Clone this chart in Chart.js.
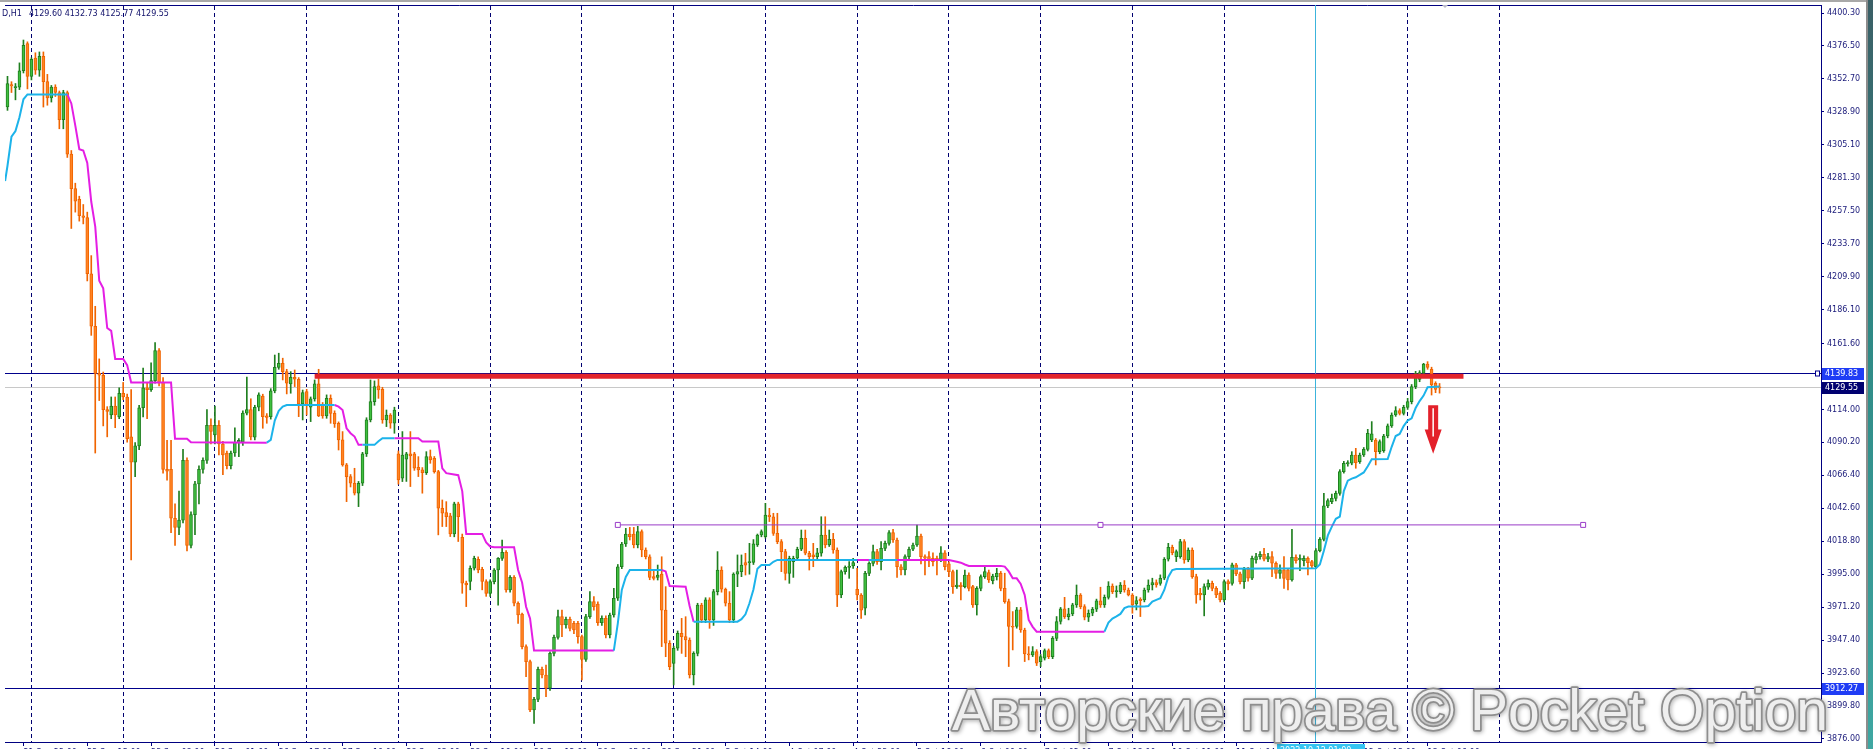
<!DOCTYPE html>
<html>
<head>
<meta charset="utf-8">
<title>H1 chart</title>
<script src="https://cdn.jsdelivr.net/npm/chart.js@4.4.1/dist/chart.umd.min.js"></script>
<style>
  html, body { margin: 0; padding: 0; background: #fff; overflow: hidden; }
  canvas { display: block; }
</style>
</head>
<body>
<canvas id="myChart" width="1873" height="749"></canvas>
<script>
// hourly candles, bar index 0..359 (23 bars per trading day)
const open = [
  4332.4, 4348.6, 4346.4, 4346.8, 4358.6, 4378.2, 4354.6, 4367.7, 4359.1, 4369.0,
  4350.7, 4338.9, 4346.8, 4342.9, 4323.2, 4342.9, 4298.4, 4273.5, 4265.7, 4253.9,
  4252.6, 4212.0, 4174.1, 4140.0, 4138.7, 4113.9, 4110.0, 4116.5, 4108.6, 4125.6,
  4123.0, 4094.2, 4075.9, 4087.7, 4115.2, 4129.6, 4128.3, 4134.8, 4156.5, 4133.5,
  4070.7, 4070.7, 4035.4, 4028.8, 4034.1, 4077.2, 4015.7, 4038.0, 4060.2, 4070.7,
  4077.2, 4102.6, 4095.6, 4102.6, 4089.0, 4082.5, 4073.3, 4082.5, 4090.3, 4090.3,
  4111.3, 4113.9, 4093.9, 4115.6, 4123.7, 4109.3, 4108.8, 4127.4, 4144.4, 4147.3,
  4141.3, 4132.4, 4137.2, 4135.8, 4118.0, 4126.9, 4115.6, 4121.6, 4132.4, 4117.2,
  4109.3, 4122.1, 4111.2, 4104.0, 4092.0, 4073.9, 4065.5, 4060.7, 4053.5, 4060.7,
  4081.9, 4106.4, 4119.6, 4131.0, 4128.6, 4106.4, 4110.0, 4104.0, 4081.9, 4064.3,
  4078.0, 4081.9, 4081.9, 4072.2, 4070.3, 4068.4, 4079.9, 4078.7, 4069.1, 4042.6,
  4039.5, 4037.1, 4024.1, 4045.8, 4021.7, 3988.5, 3989.7, 3999.3, 4005.8, 3998.6,
  3989.7, 3981.2, 3989.6, 3998.0, 4006.4, 4010.8, 3983.6, 3992.7, 3974.0, 3966.2,
  3942.7, 3931.8, 3896.9, 3904.6, 3926.3, 3922.2, 3912.6, 3937.8, 3949.4, 3964.3,
  3958.3, 3962.4, 3959.5, 3959.5, 3949.9, 3933.5, 3964.3, 3975.2, 3973.5, 3960.0,
  3963.1, 3951.1, 3965.5, 3977.6, 4000.4, 4016.8, 4024.0, 4024.0, 4016.1, 4025.7,
  4012.5, 4007.6, 3993.2, 3992.7, 3995.1, 3969.1, 3945.1, 3930.6, 3941.5, 3952.3,
  3949.9, 3947.5, 3922.2, 3937.8, 3972.7, 3961.9, 3976.4, 3961.9, 3982.4, 3998.0,
  3984.1, 3974.0, 3961.9, 3995.1, 3996.8, 4003.3, 4003.3, 4003.5, 4016.1, 4023.3,
  4022.1, 4037.7, 4036.5, 4024.5, 4018.5, 4011.3, 3995.6, 4004.1, 4006.5, 4013.0,
  4020.9, 4010.1, 4008.9, 4007.7, 4010.1, 4023.3, 4016.1, 4020.2, 4012.5, 3980.0,
  3996.8, 3999.9, 4000.9, 3984.1, 3980.0, 3970.4, 3995.6, 4002.8, 4011.3, 4004.1,
  4013.7, 4017.3, 4025.0, 4019.7, 4000.4, 3998.0, 4007.7, 4013.0, 4016.1, 4022.6,
  4007.7, 4007.7, 4006.5, 4006.5, 4005.3, 4010.5, 4002.4, 3996.8, 3986.0, 3987.2,
  3986.0, 3994.4, 3986.0, 3972.8, 3984.8, 3993.2, 3996.1, 3990.3, 3993.2, 3995.6,
  3984.8, 3975.2, 3957.2, 3957.2, 3969.2, 3954.7, 3937.4, 3936.7, 3939.1, 3931.9,
  3934.3, 3939.8, 3935.5, 3948.7, 3960.8, 3969.9, 3964.4, 3966.3, 3972.8, 3980.0,
  3971.6, 3963.9, 3966.8, 3969.7, 3975.7, 3972.8, 3978.3, 3986.5, 3982.4, 3982.4,
  3987.2, 3983.6, 3980.0, 3973.5, 3976.9, 3976.4, 3983.6, 3987.2, 3988.9, 3988.4,
  3992.1, 4005.8, 4014.4, 4007.7, 4007.7, 4018.5, 4005.3, 4012.5, 3993.3, 3981.2,
  3980.0, 3985.6, 3988.4, 3984.8, 3981.2, 3976.4, 3989.6, 3988.4, 4001.7, 3995.2,
  3989.6, 3998.6, 3992.1, 4005.3, 4007.7, 4009.4, 4005.8, 4007.7, 4002.9, 3995.6,
  3998.1, 3998.1, 3990.8, 4007.2, 4005.3, 4004.8, 4006.5, 4004.1, 4000.5, 4012.0,
  4020.2, 4044.3, 4047.4, 4049.8, 4053.4, 4069.1, 4074.6, 4075.1, 4081.1, 4076.3,
  4081.1, 4085.2, 4091.9, 4091.9, 4083.5, 4084.2, 4094.8, 4102.1, 4110.0, 4113.1,
  4111.2, 4115.5, 4119.6, 4130.5, 4135.7, 4140.1, 4146.8, 4143.0, 4132.9, 4129.60
];
const high = [
  4354.6, 4350.7, 4349.4, 4364.3, 4380.8, 4379.5, 4368.0, 4371.6, 4372.2, 4372.2,
  4356.0, 4348.0, 4348.5, 4344.0, 4344.5, 4344.0, 4301.0, 4277.4, 4268.0, 4262.0,
  4256.5, 4225.1, 4188.5, 4150.5, 4141.0, 4116.0, 4123.0, 4123.0, 4129.6, 4133.5,
  4125.0, 4128.3, 4090.0, 4117.0, 4143.9, 4133.0, 4147.6, 4162.3, 4158.0, 4137.0,
  4091.6, 4091.6, 4045.8, 4055.0, 4085.1, 4079.0, 4040.0, 4062.0, 4073.3, 4079.0,
  4113.9, 4107.3, 4116.5, 4105.9, 4091.0, 4084.0, 4084.0, 4100.8, 4093.0, 4113.0,
  4137.4, 4121.7, 4117.0, 4126.0, 4125.0, 4111.0, 4129.0, 4153.3, 4154.6, 4151.0,
  4143.0, 4141.3, 4142.5, 4137.0, 4128.0, 4128.5, 4123.0, 4135.3, 4143.0, 4119.0,
  4124.5, 4124.5, 4113.0, 4105.0, 4098.0, 4075.0, 4067.0, 4071.5, 4062.0, 4083.0,
  4108.0, 4135.3, 4134.6, 4135.8, 4130.0, 4113.6, 4111.0, 4115.6, 4084.0, 4098.0,
  4083.0, 4098.0, 4083.0, 4079.9, 4072.0, 4083.5, 4084.7, 4080.0, 4070.0, 4048.6,
  4047.4, 4039.0, 4047.0, 4047.0, 4024.0, 3990.0, 4001.0, 4008.0, 4007.5, 4000.0,
  3991.0, 3991.0, 3999.0, 4007.0, 4019.7, 4012.0, 3994.0, 3994.0, 3975.0, 3967.0,
  3944.0, 3933.0, 3906.0, 3928.0, 3928.0, 3929.4, 3939.0, 3951.0, 3969.1, 3969.1,
  3964.0, 3964.0, 3961.0, 3961.0, 3951.0, 3966.0, 3982.4, 3978.8, 3975.0, 3965.0,
  3965.0, 3967.0, 3984.8, 4002.0, 4018.0, 4028.1, 4028.8, 4028.8, 4029.6, 4027.0,
  4014.0, 4009.0, 3998.0, 4001.6, 4007.6, 3986.0, 3947.0, 3943.0, 3954.0, 3963.1,
  3964.3, 3949.0, 3939.0, 3974.0, 3974.0, 3978.0, 3978.0, 3984.0, 4011.3, 4000.4,
  3985.0, 3982.4, 3996.0, 4008.9, 4008.9, 4010.1, 4017.3, 4020.0, 4024.0, 4027.0,
  4046.2, 4042.6, 4039.0, 4039.0, 4020.0, 4013.0, 4008.0, 4008.0, 4014.5, 4026.9,
  4026.9, 4011.5, 4017.3, 4013.7, 4036.5, 4036.5, 4026.9, 4024.5, 4014.0, 3998.0,
  4001.0, 4004.1, 4006.5, 3999.2, 3981.0, 3997.0, 4004.0, 4016.1, 4013.0, 4018.5,
  4019.0, 4026.5, 4027.4, 4021.0, 4002.0, 4009.0, 4014.5, 4017.5, 4030.5, 4024.0,
  4009.0, 4011.3, 4010.5, 4008.0, 4014.9, 4012.0, 4004.0, 3998.0, 3998.0, 3989.0,
  3998.0, 3996.0, 3987.0, 3986.0, 3994.5, 4000.4, 3998.0, 3995.0, 3999.2, 3997.0,
  3995.7, 3977.0, 3968.0, 3971.0, 3971.0, 3956.0, 3942.7, 3942.7, 3940.5, 3937.0,
  3941.0, 3941.0, 3950.0, 3964.4, 3971.0, 3978.3, 3970.4, 3974.0, 3987.2, 3981.0,
  3973.0, 3969.2, 3971.0, 3977.0, 3985.6, 3980.0, 3989.6, 3988.0, 3986.5, 3989.0,
  3990.4, 3985.0, 3981.0, 3978.8, 3978.0, 3985.0, 3990.9, 3992.1, 3990.9, 3994.5,
  4007.0, 4017.3, 4016.0, 4012.5, 4020.2, 4020.0, 4014.0, 4014.0, 3995.0, 3984.8,
  3988.0, 3990.9, 3990.0, 3986.0, 3982.5, 3991.0, 3991.0, 4003.0, 4002.9, 3996.5,
  4000.0, 4000.0, 4008.0, 4010.1, 4011.3, 4013.7, 4010.1, 4011.3, 4004.0, 4001.7,
  4007.7, 3999.0, 4027.4, 4008.9, 4008.9, 4008.2, 4007.5, 4005.0, 4013.5, 4021.5,
  4053.4, 4049.5, 4052.9, 4055.0, 4070.5, 4076.5, 4077.0, 4083.5, 4085.9, 4082.5,
  4086.5, 4099.6, 4105.2, 4093.0, 4092.0, 4096.0, 4103.5, 4111.5, 4116.0, 4114.5,
  4117.0, 4122.0, 4132.0, 4141.5, 4142.0, 4147.3, 4148.5, 4144.5, 4134.0, 4132.73
];
const low = [
  4330.0, 4342.9, 4337.6, 4345.0, 4357.0, 4345.5, 4352.0, 4356.0, 4354.6, 4332.4,
  4333.7, 4336.0, 4340.0, 4316.7, 4316.7, 4296.0, 4244.7, 4256.5, 4250.0, 4248.0,
  4206.8, 4167.5, 4082.5, 4120.4, 4102.1, 4094.2, 4107.3, 4100.8, 4107.3, 4121.0,
  4090.3, 4005.3, 4065.5, 4085.0, 4108.6, 4107.3, 4127.0, 4133.0, 4130.9, 4068.0,
  4062.9, 4024.9, 4015.7, 4023.6, 4032.0, 4011.8, 4014.0, 4023.6, 4045.8, 4068.0,
  4075.0, 4089.0, 4089.0, 4081.2, 4066.8, 4071.0, 4071.0, 4080.0, 4079.9, 4088.0,
  4110.0, 4092.0, 4092.0, 4113.0, 4100.4, 4104.0, 4107.0, 4126.0, 4143.0, 4135.3,
  4125.2, 4125.7, 4130.5, 4108.8, 4106.4, 4110.0, 4105.2, 4120.0, 4108.8, 4107.6,
  4107.6, 4104.0, 4101.0, 4084.7, 4073.0, 4047.4, 4058.0, 4052.2, 4043.8, 4059.0,
  4080.0, 4105.0, 4117.0, 4122.0, 4104.0, 4101.6, 4100.4, 4096.8, 4060.0, 4061.9,
  4062.0, 4058.3, 4070.0, 4065.5, 4053.5, 4067.0, 4075.1, 4068.0, 4023.4, 4029.4,
  4029.4, 4022.2, 4022.0, 4018.6, 3981.2, 3971.6, 3983.7, 3998.0, 3996.0, 3983.7,
  3979.0, 3979.0, 3988.0, 3972.7, 4005.0, 3982.0, 3982.0, 3972.0, 3959.5, 3941.0,
  3921.0, 3895.7, 3887.3, 3903.0, 3920.0, 3906.6, 3911.0, 3936.0, 3948.0, 3949.9,
  3956.0, 3954.0, 3952.0, 3945.1, 3918.6, 3932.0, 3963.0, 3969.0, 3958.0, 3958.0,
  3949.0, 3949.0, 3964.0, 3976.0, 3999.0, 4015.0, 4019.7, 4014.0, 4014.0, 4007.6,
  4006.0, 3991.0, 3990.8, 3990.8, 3942.7, 3935.4, 3926.0, 3915.0, 3940.0, 3937.8,
  3935.4, 3920.0, 3915.0, 3936.0, 3960.0, 3960.0, 3955.9, 3958.0, 3980.0, 3982.0,
  3972.0, 3960.0, 3960.0, 3986.0, 3993.2, 3994.4, 3995.0, 4002.0, 4015.0, 4022.0,
  4021.0, 4033.0, 4023.0, 4017.0, 3996.8, 3990.8, 3988.4, 3992.7, 4005.0, 4012.0,
  4009.0, 3998.0, 4000.4, 4006.0, 4008.0, 4014.0, 4015.0, 4010.1, 3971.6, 3978.0,
  3995.0, 3992.0, 3999.2, 3976.4, 3963.1, 3965.5, 3994.0, 4001.0, 4002.0, 3998.0,
  4012.0, 4016.0, 4018.0, 3992.7, 3994.4, 3994.4, 4006.0, 4012.0, 4015.0, 4002.4,
  3994.4, 4000.4, 4000.9, 3994.4, 4004.0, 3998.0, 3993.2, 3981.2, 3984.8, 3976.4,
  3985.0, 3983.0, 3971.0, 3965.5, 3983.0, 3992.0, 3989.0, 3988.0, 3990.8, 3983.0,
  3974.0, 3928.3, 3940.3, 3956.0, 3953.0, 3931.9, 3933.1, 3935.5, 3929.0, 3928.3,
  3933.0, 3934.0, 3934.0, 3947.0, 3959.0, 3963.0, 3962.0, 3965.0, 3971.0, 3970.0,
  3962.0, 3960.8, 3965.0, 3968.0, 3971.0, 3971.0, 3977.0, 3981.0, 3978.3, 3981.0,
  3982.0, 3979.3, 3966.8, 3969.2, 3964.4, 3975.0, 3982.0, 3983.6, 3985.6, 3987.0,
  3991.0, 4004.5, 4009.0, 4004.1, 4006.5, 4002.9, 4004.0, 3992.0, 3974.0, 3976.4,
  3964.9, 3984.0, 3983.0, 3978.0, 3975.0, 3975.0, 3983.6, 3987.0, 3994.0, 3988.0,
  3984.8, 3990.0, 3991.0, 4002.9, 4005.8, 4004.5, 4004.1, 3993.2, 3992.0, 3992.0,
  3984.8, 3983.6, 3990.0, 4003.0, 3997.5, 4001.0, 3994.4, 3999.0, 3999.0, 4011.0,
  4019.0, 4043.0, 4046.0, 4048.0, 4052.0, 4068.0, 4073.0, 4074.0, 4071.5, 4075.0,
  4080.0, 4084.0, 4090.7, 4073.9, 4082.0, 4083.0, 4093.5, 4101.0, 4109.0, 4110.0,
  4110.0, 4114.0, 4118.0, 4129.0, 4134.0, 4139.0, 4143.0, 4124.4, 4126.1, 4125.77
];
const close = [
  4349.4, 4347.6, 4347.2, 4358.6, 4376.9, 4354.6, 4366.9, 4359.1, 4369.0, 4350.7,
  4338.9, 4346.8, 4342.9, 4323.2, 4342.9, 4298.4, 4273.5, 4264.4, 4253.9, 4252.6,
  4212.0, 4174.1, 4140.0, 4138.7, 4113.9, 4112.6, 4116.5, 4110.0, 4125.6, 4123.0,
  4092.9, 4075.9, 4087.7, 4115.2, 4129.6, 4128.3, 4134.8, 4156.5, 4133.5, 4070.7,
  4069.4, 4035.4, 4028.8, 4034.1, 4077.2, 4015.7, 4038.0, 4060.2, 4070.7, 4077.2,
  4102.6, 4098.2, 4102.6, 4089.0, 4081.2, 4073.3, 4082.5, 4090.3, 4091.6, 4111.3,
  4113.9, 4094.2, 4115.6, 4124.5, 4108.8, 4108.3, 4127.4, 4144.4, 4147.3, 4141.3,
  4132.9, 4137.2, 4135.8, 4118.0, 4126.1, 4117.2, 4121.6, 4132.4, 4109.3, 4109.3,
  4122.1, 4111.2, 4103.5, 4092.0, 4073.9, 4065.5, 4060.7, 4053.5, 4060.7, 4081.9,
  4106.4, 4119.6, 4130.5, 4128.1, 4106.4, 4110.0, 4104.0, 4113.6, 4063.1, 4081.1,
  4081.9, 4080.4, 4071.5, 4070.3, 4068.4, 4079.9, 4077.5, 4069.1, 4042.6, 4039.0,
  4036.6, 4024.1, 4045.8, 4036.6, 3988.5, 3987.3, 3999.3, 4006.5, 3998.1, 3989.7,
  3981.2, 3989.7, 3998.0, 4006.4, 4010.8, 3983.6, 3992.7, 3974.0, 3965.5, 3942.7,
  3931.8, 3896.9, 3904.6, 3926.3, 3922.2, 3912.6, 3937.8, 3949.4, 3964.3, 3958.3,
  3962.4, 3955.9, 3954.7, 3949.9, 3933.5, 3964.3, 3975.2, 3971.5, 3960.0, 3963.1,
  3951.1, 3965.5, 3977.6, 4000.4, 4016.8, 4024.0, 4022.1, 4016.1, 4025.7, 4012.5,
  4007.6, 3992.7, 3992.0, 3994.4, 3969.1, 3945.1, 3928.2, 3941.5, 3952.3, 3949.9,
  3947.5, 3922.2, 3937.8, 3972.7, 3961.9, 3976.4, 3961.9, 3982.4, 3998.0, 3984.1,
  3974.0, 3961.9, 3995.1, 3996.8, 4001.6, 4001.6, 4004.0, 4017.0, 4023.3, 4025.7,
  4037.7, 4036.5, 4024.5, 4018.5, 4011.3, 3995.6, 4006.5, 4006.5, 4013.0, 4020.9,
  4010.1, 4007.7, 4007.7, 4010.5, 4023.3, 4016.1, 4020.2, 4012.5, 3980.0, 3996.8,
  3999.9, 4000.9, 4003.3, 3980.0, 3969.1, 3995.6, 4002.8, 4011.3, 4004.1, 4013.7,
  4017.3, 4025.0, 4019.7, 4000.4, 3998.0, 4007.7, 4013.0, 4016.1, 4022.6, 4007.7,
  4006.5, 4005.3, 4004.1, 4005.3, 4010.5, 4000.4, 3996.8, 3986.0, 3987.2, 3986.0,
  3994.4, 3984.8, 3972.8, 3984.8, 3993.2, 3996.8, 3990.8, 3993.7, 3995.6, 3984.8,
  3975.2, 3957.2, 3956.7, 3969.2, 3954.7, 3937.4, 3936.7, 3939.1, 3930.7, 3935.5,
  3939.8, 3935.5, 3948.7, 3960.8, 3969.9, 3964.4, 3966.3, 3972.8, 3980.0, 3971.6,
  3963.9, 3966.8, 3969.7, 3975.7, 3972.8, 3978.3, 3986.5, 3982.4, 3983.1, 3987.2,
  3983.6, 3980.0, 3972.8, 3975.9, 3975.9, 3983.6, 3987.2, 3988.9, 3987.2, 3992.1,
  4005.8, 4014.4, 4010.6, 4011.3, 4018.5, 4005.3, 4012.5, 3993.3, 3980.0, 3980.0,
  3986.0, 3988.4, 3984.8, 3980.0, 3976.4, 3989.6, 3987.9, 4001.7, 3995.2, 3989.6,
  3998.6, 3992.1, 4006.5, 4007.7, 4009.4, 4005.8, 4007.7, 4002.9, 3995.6, 3998.1,
  3992.0, 3990.8, 4007.2, 4004.8, 4006.5, 4006.5, 4003.4, 4001.0, 4012.0, 4020.2,
  4044.3, 4048.1, 4049.8, 4053.4, 4069.1, 4075.1, 4075.6, 4081.1, 4075.6, 4081.1,
  4085.2, 4096.8, 4096.3, 4083.5, 4090.7, 4094.8, 4102.1, 4110.0, 4113.1, 4111.2,
  4115.5, 4119.6, 4130.5, 4140.1, 4140.6, 4146.8, 4144.4, 4131.7, 4128.5, 4129.55
];

// trailing-stop indicator: [bar, price], null = break in the line
const cyanLine = [
  [-0.6, 4279], [0, 4290], [1, 4311], [2, 4315], [3, 4325], [4, 4338], [5, 4341.5], [15, 4341.5], null,
  [65, 4090], [66, 4092], [67, 4106], [68, 4113], [69, 4116], [70, 4117.2], [82, 4117.2], null,
  [89, 4088.4], [92, 4088.4], [93, 4091], [94, 4093.2], [97, 4093.2], null,
  [152, 3939.8], [153, 3959.5], [154, 3983.6], [155, 3993], [156, 3998], [164, 3998], null,
  [172, 3960.7], [183, 3960.7], [184, 3962.5], [185, 3966], [186, 3974], [187, 3984], [188, 3999],
  [189, 4001.6], [191, 4001.6], [192, 4004], [193, 4005.3], [213, 4005.3], null,
  [216, 4005.3], [223, 4005.3], null,
  [275, 3953.5], [276, 3960], [277, 3963], [278, 3964.5], [279, 3966.3], [280, 3970.5], [281, 3971.6],
  [285, 3971.6], [286, 3972], [287, 3975.2], [288, 3976.5], [289, 3977.6], [290, 3983.6], [291, 3993],
  [292, 3998], [293, 3998.8], [328, 3999.3], [329, 4002], [330, 4012], [331, 4023], [332, 4029.4],
  [333, 4035], [334, 4036.6], [335, 4055], [336, 4062.5], [337, 4064], [338, 4065], [339, 4066.7],
  [340, 4068.5], [341, 4073], [342, 4078], [346, 4078.2], [347, 4087], [348, 4094.8], [349, 4096.3],
  [350, 4102], [351, 4106], [352, 4107.6], [353, 4115], [354, 4120], [355, 4124], [356, 4130], [359, 4130.5]
];
const magentaLine = [
  [15, 4341.5], [16, 4335], [17, 4319], [18, 4302], [19, 4301], [20, 4292], [21, 4264], [22, 4246],
  [23, 4207], [24, 4201.5], [25, 4172.8], [26, 4170.7], [27, 4150.5], [29, 4150.5], [30, 4146],
  [31, 4133.5], [41, 4133.5], [42, 4092.9], [45, 4092.9], [46, 4090.3], [65, 4090], null,
  [82, 4117.2], [83, 4116], [84, 4113.6], [85, 4100.4], [86, 4096.8], [87, 4094.4], [88, 4088.4], [89, 4088.4], null,
  [97, 4093.2], [103, 4093.2], [104, 4090.8], [108, 4090.8], [109, 4071.5], [110, 4068], [113, 4066.5],
  [114, 4055], [115, 4024.1], [119, 4024.1], [120, 4018], [121, 4015], [122, 4014.4], [127, 4014.4],
  [128, 3998], [129, 3989], [130, 3971.5], [131, 3963], [132, 3939.8], [152, 3939.8], null,
  [164, 3998], [165, 3997], [166, 3986.5], [170, 3986], [171, 3972], [172, 3960.7], null,
  [213, 4005.3], [216, 4005.3], null,
  [223, 4005.3], [236, 4005.3], [238, 4004], [239, 4003.3], [240, 4002], [241, 4001], [249, 4001],
  [250, 4000.5], [251, 3997], [252, 3992], [253, 3992], [254, 3988], [255, 3980], [256, 3962],
  [257, 3957], [258, 3953.5], [275, 3953.5]
];

const yTicks = [4400.30, 4376.50, 4352.70, 4328.90, 4305.10, 4281.30, 4257.50, 4233.70, 4209.90, 4186.10, 4161.60,
  4114.00, 4090.20, 4066.40, 4042.60, 4018.80, 3995.00, 3971.20, 3947.40, 3923.60, 3899.80, 3876.00];
const dayStarts = [6, 29, 52, 75, 98, 121, 144, 167, 190, 213, 236, 259, 282, 305, 328, 351, 374];
const timeTicks = [4, 20, 36, 52, 68, 84, 100, 116, 132, 148, 164, 180, 196, 212, 228, 244, 260, 276, 292, 308, 324, 340, 356];
const timeLabels = ['21 Sep 22:00', '22 Sep 15:00', '23 Sep 08:00', '26 Sep 01:00', '26 Sep 17:00', '27 Sep 10:00',
  '28 Sep 03:00', '28 Sep 19:00', '29 Sep 12:00', '30 Sep 05:00', '30 Sep 21:00', '3 Oct 14:00', '4 Oct 07:00',
  '4 Oct 23:00', '5 Oct 16:00', '6 Oct 09:00', '7 Oct 02:00', '7 Oct 18:00', '10 Oct 11:00', '11 Oct 04:00',
  '11 Oct 20:00', '12 Oct 13:00', '13 Oct 06:00'];

const resistance = 4138.0, redFrom = 77, redTo = 365;
const upperLevel = 4139.83, lowerLevel = 3912.27, bidLevel = 4129.55;
const trendLevel = 4030.6, trendBars = [153, 274, 395];
const vLineBar = 328, vLineLabel = '2022.10.12 01:00';
const arrowBar = 357.4, arrowTop = 4117, arrowTip = 4082;
const ohlcText = '4129.60 4132.73 4125.77 4129.55';
const watermark = 'Авторские права © Pocket Option';

const GREEN = '#3fbf3f', GREEN_EDGE = '#1f7f1f', ORANGE = '#ff8424', ORANGE_EDGE = '#f06400';
const X_MIN = -0.625, X_MAX = 454.625;

const isUp = open.map((o, i) => close[i] >= o);
const toPoints = arr => {
  const pts = []; let lastX = 0;
  arr.forEach(p => {
    if (p) { pts.push({ x: p[0], y: p[1] }); lastX = p[0]; }
    else pts.push({ x: lastX + 0.01, y: null });
  });
  return pts;
};

Chart.defaults.font.family = '"DejaVu Sans", sans-serif';
Chart.defaults.font.size = 8;
Chart.defaults.color = '#1a1a7a';

const overlay = {
  id: 'overlay',
  beforeDraw(chart) {
    const c = chart.ctx;
    c.save();
    c.fillStyle = '#fff';
    c.fillRect(0, 0, chart.width, chart.height);
    c.fillStyle = '#a8a8a8';
    c.fillRect(0, 0, 1866, 2);
    c.fillStyle = '#8c8c8c';
    c.fillRect(1866, 0, 2, chart.height);
    const g = c.createLinearGradient(0, 0, 0, chart.height);
    g.addColorStop(0, '#3b5f66'); g.addColorStop(0.45, '#2f8a86'); g.addColorStop(1, '#3fa7a2');
    c.fillStyle = g;
    c.fillRect(1868, 0, 5, chart.height);
    c.restore();
  },
  beforeDatasetsDraw(chart) {
    const { ctx: c, chartArea: a, scales: { x, y } } = chart;
    c.save();
    const level = (v, color) => {
      const py = Math.floor(y.getPixelForValue(v)) + 0.5;
      c.strokeStyle = color; c.lineWidth = 1;
      c.beginPath(); c.moveTo(a.left, py); c.lineTo(a.right, py); c.stroke();
    };
    level(bidLevel, '#c8c8c8');
    level(upperLevel, '#00008b');
    level(lowerLevel, '#00008b');
    const px = Math.floor(x.getPixelForValue(vLineBar)) + 0.5;
    c.strokeStyle = '#3cb4dc';
    c.beginPath(); c.moveTo(px, a.top); c.lineTo(px, a.bottom); c.stroke();
    c.restore();
  },
  afterDatasetsDraw(chart) {
    const { ctx: c, scales: { x, y } } = chart;
    const ax = x.getPixelForValue(arrowBar);
    const yt = y.getPixelForValue(arrowTop), yb = y.getPixelForValue(arrowTip);
    const neck = yt + (yb - yt) * 0.5;
    c.save();
    c.beginPath();
    c.moveTo(ax - 5, yt); c.lineTo(ax + 5, yt); c.lineTo(ax + 5, neck); c.lineTo(ax + 8.5, neck);
    c.lineTo(ax, yb); c.lineTo(ax - 8.5, neck); c.lineTo(ax - 5, neck); c.closePath();
    c.fillStyle = '#e3202a'; c.fill();
    c.strokeStyle = '#ffffff'; c.lineWidth = 1.5;
    c.beginPath(); c.moveTo(ax, yt + 3); c.lineTo(ax, neck + 7); c.stroke();
    c.restore();
  },
  afterDraw(chart) {
    const { ctx: c, chartArea: a, scales: { x, y } } = chart;
    c.save();
    c.font = '8px "DejaVu Sans"';
    c.textBaseline = 'middle';
    const box = (v, bg) => {
      const py = Math.round(y.getPixelForValue(v));
      c.fillStyle = bg; c.fillRect(a.right + 1, py - 6, 42, 12);
      c.fillStyle = '#fff'; c.fillText(v.toFixed(2), a.right + 4, py);
    };
    box(upperLevel, '#1f3cf5');
    box(bidLevel, '#000070');
    box(lowerLevel, '#1f3cf5');
    const uy = Math.floor(y.getPixelForValue(upperLevel)) + 0.5;
    c.strokeStyle = '#00008b'; c.lineWidth = 1;
    c.fillStyle = '#fff';
    c.fillRect(a.right - 5.5, uy - 2.5, 4, 5);
    c.strokeRect(a.right - 5.5, uy - 2.5, 4, 5);

    // vertical line time label on the axis
    const px = Math.floor(x.getPixelForValue(vLineBar));
    c.fillStyle = '#35c4f2';
    c.fillRect(px - 38, a.bottom + 2, 88, 14);
    c.fillStyle = '#fff';
    c.textBaseline = 'top';
    c.fillText(vLineLabel, px - 35, a.bottom + 5);

    // symbol / OHLC line
    c.fillStyle = '#10106a';
    c.textBaseline = 'alphabetic';
    c.fillText('D,H1', 2, 16);
    c.fillText(ohlcText, 29, 16);

    // chart-shift marker
    c.fillStyle = '#b8b8c8';
    c.beginPath(); c.moveTo(1442, 5); c.lineTo(1448, 5); c.lineTo(1445, 8); c.closePath(); c.fill();

    // watermark
    c.font = '56px "Liberation Sans"';
    const w = c.measureText(watermark).width;
    const size = 56 * 876 / w;
    c.font = size.toFixed(1) + 'px "Liberation Sans"';
    c.lineJoin = 'round';
    c.shadowColor = 'rgba(0,0,0,0.35)'; c.shadowBlur = 4; c.shadowOffsetX = 1; c.shadowOffsetY = 1;
    c.strokeStyle = '#8e8e8e'; c.lineWidth = 3.5;
    c.strokeText(watermark, 952, 730);
    c.shadowColor = 'transparent';
    c.fillStyle = '#eeeeee';
    c.fillText(watermark, 952, 730);
    c.restore();
  }
};

const ctx = document.getElementById('myChart');
new Chart(ctx, {
  type: 'bar',
  data: {
    datasets: [
      {
        type: 'line', data: [{ x: redFrom, y: resistance }, { x: redTo, y: resistance }],
        borderColor: '#e3242b', borderWidth: 5, pointRadius: 0, order: 0
      },
      {
        type: 'line', data: trendBars.map(b => ({ x: b, y: trendLevel })),
        borderColor: '#9a3cc8', borderWidth: 1, pointStyle: 'rect', pointRadius: 3.5,
        pointBorderWidth: 1, pointBackgroundColor: '#fff', pointBorderColor: '#9a3cc8', order: 1
      },
      {
        type: 'line', data: toPoints(cyanLine), borderColor: '#1cb3ea', borderWidth: 2,
        pointRadius: 0, tension: 0, spanGaps: false, order: 2
      },
      {
        type: 'line', data: toPoints(magentaLine), borderColor: '#e41ee4', borderWidth: 2,
        pointRadius: 0, tension: 0, spanGaps: false, order: 2
      },
      {
        data: open.map((o, i) => ({ x: i, y: [o, close[i]] })),
        backgroundColor: isUp.map(u => u ? GREEN : ORANGE),
        borderColor: isUp.map(u => u ? GREEN_EDGE : ORANGE_EDGE),
        borderWidth: 1, borderSkipped: false, barThickness: 3, minBarLength: 1, grouped: false, order: 3
      },
      {
        data: open.map((o, i) => ({ x: i, y: [low[i], high[i]] })),
        backgroundColor: isUp.map(u => u ? GREEN_EDGE : ORANGE_EDGE),
        borderWidth: 0, barThickness: 1, grouped: false, order: 4
      }
    ]
  },
  options: {
    responsive: false,
    animation: false,
    devicePixelRatio: 1,
    events: [],
    layout: { padding: { top: 5, left: 0, right: 0, bottom: 0 } },
    plugins: { legend: { display: false }, tooltip: { enabled: false } },
    scales: {
      x: {
        type: 'linear', position: 'bottom', min: X_MIN, max: X_MAX, offset: false,
        afterBuildTicks: s => { s.ticks = timeTicks.map(v => ({ value: v })); },
        afterFit: s => { s.height = 7; s.paddingLeft = 0; s.paddingRight = 0; },
        ticks: {
          autoSkip: false, maxRotation: 0, minRotation: 0, align: 'start', padding: 2,
          callback: v => timeLabels[timeTicks.indexOf(v)]
        },
        grid: { offset: false, drawOnChartArea: false, drawTicks: true, tickLength: 4, tickColor: '#000080' },
        border: { display: true, color: '#000080' }
      },
      xg: {
        type: 'linear', position: 'top', min: X_MIN, max: X_MAX, offset: false,
        afterBuildTicks: s => { s.ticks = dayStarts.map(v => ({ value: v })); },
        afterFit: s => { s.height = 0; s.paddingLeft = 0; s.paddingRight = 0; },
        ticks: { display: false },
        grid: { offset: false, drawTicks: false, color: '#000070', lineWidth: 1 },
        border: { display: true, color: '#000080', dash: [4, 3] }
      },
      y: {
        type: 'linear', position: 'right', min: 3873.8, max: 4406.1, beginAtZero: false,
        afterBuildTicks: s => { s.ticks = yTicks.map(v => ({ value: v })); },
        afterFit: s => { s.width = 52; s.paddingTop = 0; s.paddingBottom = 0; },
        ticks: { autoSkip: false, padding: 3, callback: v => v.toFixed(2) },
        grid: { drawOnChartArea: false, drawTicks: true, tickLength: 3, tickColor: '#000080' },
        border: { display: true, color: '#000080' }
      }
    }
  },
  plugins: [overlay]
});
</script>
</body>
</html>
